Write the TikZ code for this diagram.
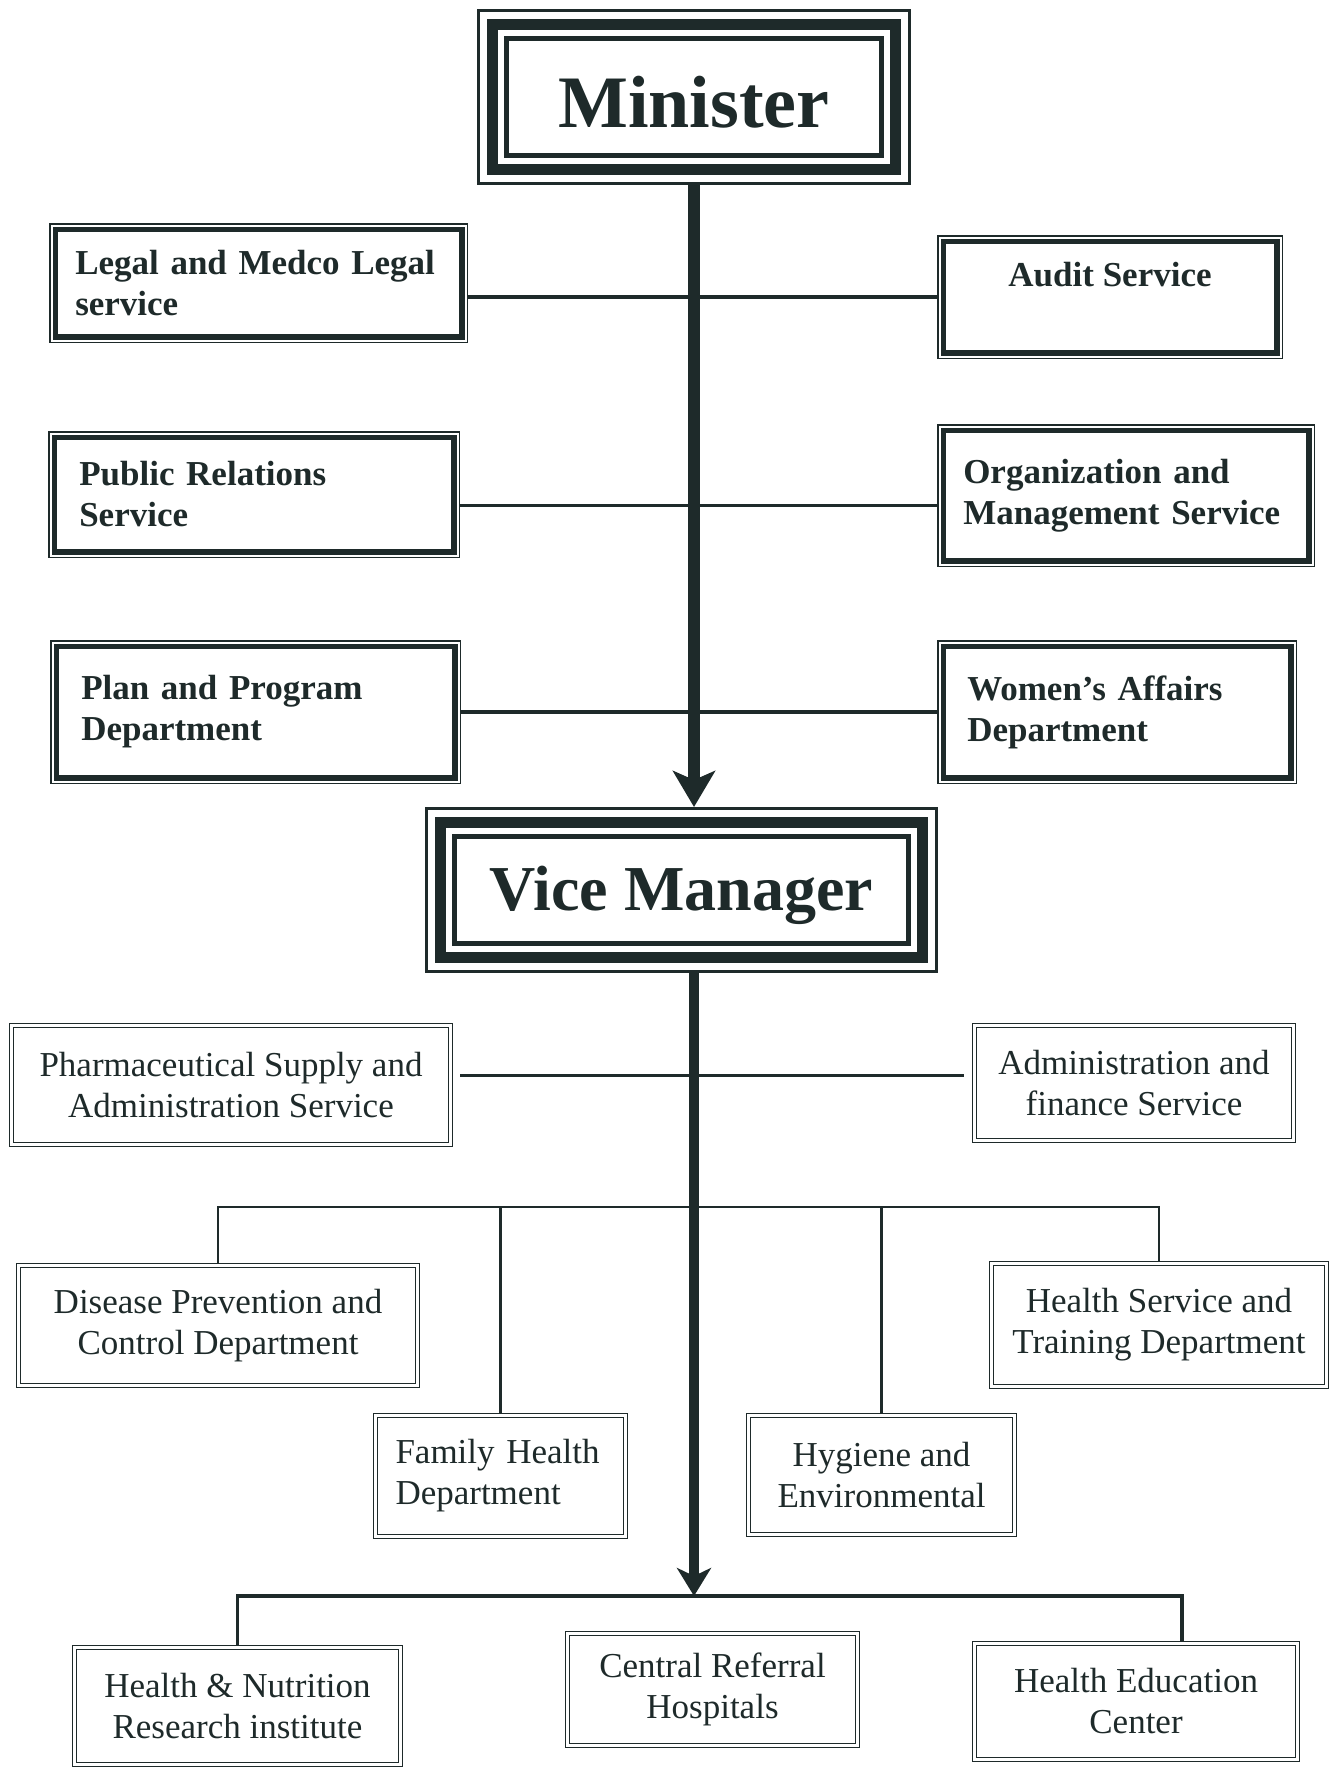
\documentclass[tikz,border=0pt]{standalone}
\usepackage{fontspec}
\setmainfont{Liberation Serif}
\usepackage{xcolor}
\usetikzlibrary{arrows.meta, positioning, calc}

\definecolor{ink}{HTML}{1E2A2A}

\begin{document}
\begin{tikzpicture}[x=1pt, y=-1pt,
    headbox/.style={rectangle, draw=ink, fill=white, line width=5pt, inner sep=0pt, outer sep=29.5pt,
        text=ink, font=\fontsize{74pt}{80pt}\selectfont\bfseries,
        preaction={draw=ink, line width=59pt},
        preaction={draw=white, line width=53pt},
        preaction={draw=ink, line width=39pt},
        preaction={draw=white, line width=17pt}},
    unitbox/.style={rectangle, draw=ink, fill=white, line width=5.5pt, inner sep=0pt, outer sep=6.25pt,
        text=ink, align=left, font=\fontsize{35pt}{41pt}\selectfont\bfseries,
        preaction={draw=ink, line width=12.5pt},
        preaction={draw=white, line width=9.5pt}},
    deptbox/.style={rectangle, draw=ink, double=white, double distance=2.5pt, line width=1.3pt,
        inner sep=0pt, outer sep=2.55pt, text=ink, align=center,
        font=\fontsize{35pt}{41pt}\selectfont},
    link/.style={draw=ink, line width=3.5pt},
    branch/.style={draw=ink, line width=2.5pt}]

    \path[fill=white, use as bounding box] (0,0) rectangle (1331,1769);

    % Minister
    \node[headbox, minimum width=375pt, minimum height=117pt, text height=62pt] (minister) at (694,97) {Minister};

    % Services under the minister
    \node[unitbox, minimum width=406.5pt, minimum height=107.5pt, text width=366.5pt] (legal) at (258.5,283) {Legal and Medco Legal\\service};
    \node[unitbox, minimum width=333.5pt, minimum height=111.5pt, text depth=45pt] (audit) at (1110,297) {Audit Service};
    \node[unitbox, minimum width=399.5pt, minimum height=114.5pt, text width=349.5pt] (pr) at (254,494.5) {Public Relations\\Service};
    \node[unitbox, minimum width=365.5pt, minimum height=130.5pt, text width=325.5pt] (org) at (1126,495.5) {Organization and\\Management Service};
    \node[unitbox, minimum width=398.5pt, minimum height=131.5pt, text width=348.5pt] (plan) at (255.5,712) {Plan and Program\\Department};
    \node[unitbox, minimum width=347.5pt, minimum height=131.5pt, text width=299.5pt] (women) at (1117,712) {Women's Affairs\\Department};

    % Vice Manager
    \node[headbox, minimum width=454pt, minimum height=107pt, font=\fontsize{64pt}{70pt}\selectfont\bfseries, text depth=4pt] (vm) at (681.5,890) {Vice Manager};

    % Services under the vice manager
    \node[deptbox, minimum width=439pt, minimum height=119pt] (pharm) at (231,1085) {Pharmaceutical Supply and\\Administration Service};
    \node[deptbox, minimum width=319pt, minimum height=115pt] (admin) at (1134,1083) {Administration and\\finance Service};

    % Departments
    \node[deptbox, minimum width=399pt, minimum height=120pt] (disease) at (218,1325.5) {Disease Prevention and\\Control Department};
    \node[deptbox, minimum width=335pt, minimum height=123pt] (training) at (1159,1325) {Health Service and\\Training Department};
    \node[deptbox, minimum width=250pt, minimum height=121pt, align=left, text width=210pt] (family) at (500.5,1476) {Family Health\\Department};
    \node[deptbox, minimum width=266pt, minimum height=119pt] (hygiene) at (881.5,1475) {Hygiene and\\Environmental};

    % Institutions
    \node[deptbox, minimum width=326pt, minimum height=117pt] (research) at (237.5,1706) {Health \& Nutrition\\Research institute};
    \node[deptbox, minimum width=290pt, minimum height=112pt] (referral) at (712.5,1689.5) {Central Referral\\Hospitals};
    \node[deptbox, minimum width=323pt, minimum height=116pt] (education) at (1136,1701.5) {Health Education\\Center};

    % Minister to Vice Manager
    \draw[draw=ink, line width=12pt, -{Stealth[length=36pt, width=42pt, inset=9pt]}] (minister.south) -- (minister.south |- vm.north);

    \draw[link] (legal.east |- audit.west) -- (audit.west);
    \coordinate (prlink) at ($(pr.east)+(0,11)$);
    \draw[link] (prlink) -- (prlink -| org.west);
    \draw[link] (plan.east) -- (women.west);

    % Vice Manager downward
    \coordinate (bus1) at (694,1207);
    \coordinate (bus2) at (694,1596);
    \draw[draw=ink, line width=9.5pt, -{Stealth[length=28pt, width=34pt, inset=8pt]}] (vm.south -| minister.south) -- (bus2);

    \coordinate (pharmlink) at ($(pharm.east)+(0,-10)$);
    \draw[link, line width=3pt, shorten <=7pt, shorten >=8pt] (pharmlink) -- (pharmlink -| admin.west);

    \draw[branch] (disease.north) |- (bus1) -| (training.north);
    \draw[branch] (family.north) -- (family.north |- bus1);
    \draw[branch] (hygiene.north) -- (hygiene.north |- bus1);

    \coordinate (edudrop) at ($(education.north)+(46,0)$);
    \draw[branch, line width=3.5pt] (research.north) |- (bus2) -| (edudrop);
\end{tikzpicture}
\end{document}
